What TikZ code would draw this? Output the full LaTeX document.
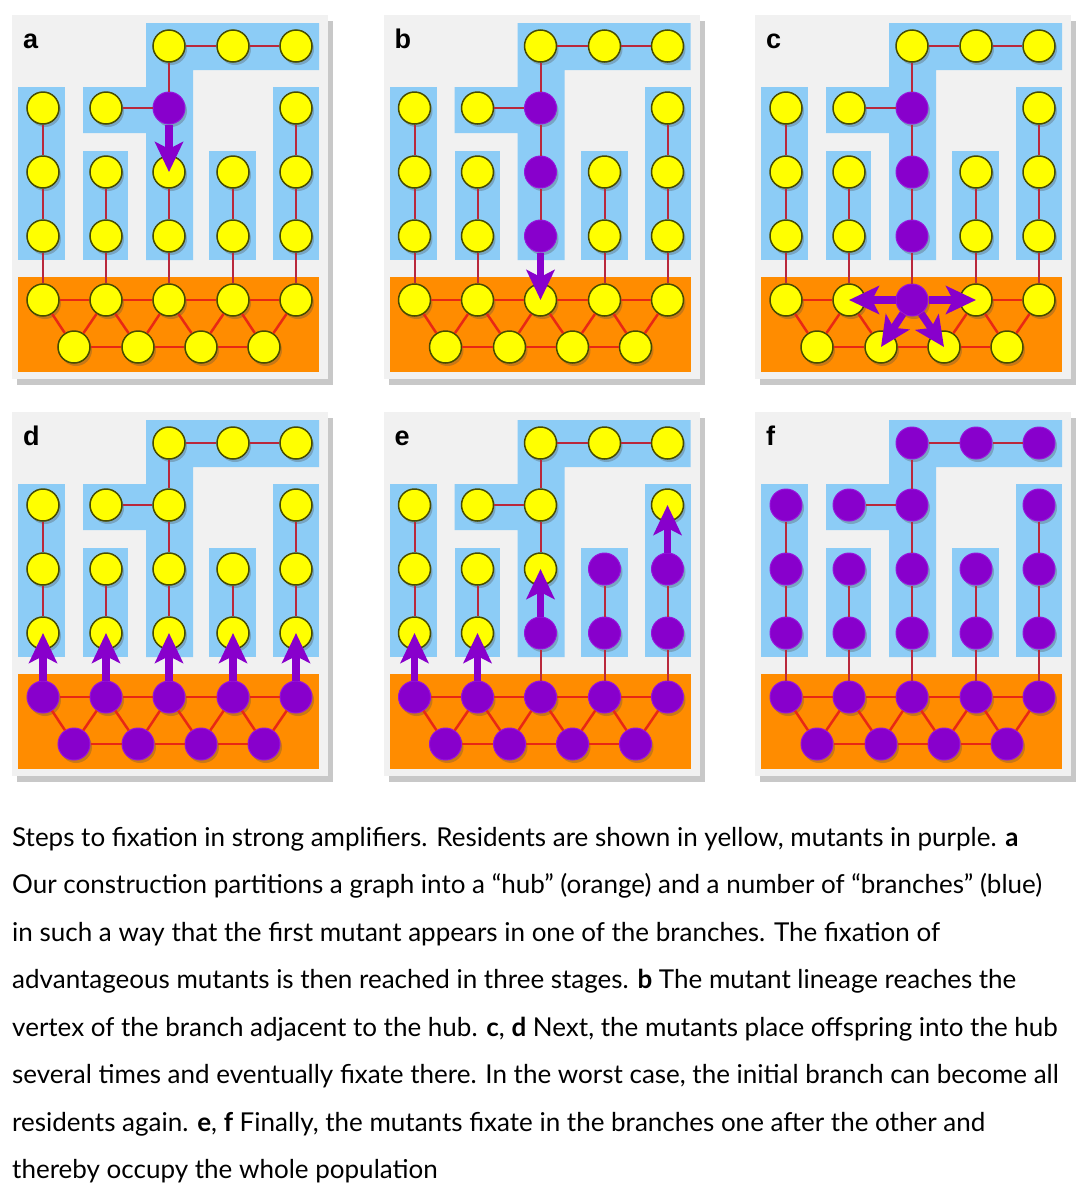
\documentclass[tikz,border=0pt]{standalone}
\usepackage{fontspec}
\setmainfont{Lato}
\newfontfamily\labelfont{Liberation Sans}
\usetikzlibrary{arrows.meta,shadows}

\definecolor{panelbg}{RGB}{241,241,241}
\definecolor{panelsh}{RGB}{200,200,200}
\definecolor{branchblue}{RGB}{140,204,246}
\definecolor{huborange}{RGB}{255,140,0}
\definecolor{resyellow}{RGB}{255,255,0}
\definecolor{resedge}{RGB}{70,75,0}
\definecolor{mutpurple}{RGB}{136,0,204}
\definecolor{mutedge}{RGB}{150,20,220}
\definecolor{branchedge}{RGB}{185,40,60}
\definecolor{hubedge}{RGB}{232,40,20}

\tikzset{
  vertex/.style={circle, minimum size=32pt, inner sep=0pt, fill=resyellow,
    draw=resedge, line width=1.5pt,
    drop shadow={shadow xshift=2pt, shadow yshift=-3pt, opacity=0.3, fill=black!70}},
  mutant/.style={fill=mutpurple, draw=mutedge, line width=1pt},
  bedge/.style={draw=branchedge, line width=2pt},
  hedge/.style={draw=hubedge, line width=2.5pt},
  marrow/.style={draw=mutpurple, line width=7.5pt,
    -{Stealth[length=30pt, width=28pt, inset=7pt]}},
  plabel/.style={font=\labelfont\bfseries\fontsize{27}{27}\selectfont, inner sep=0pt, anchor=base west},
  captext/.style={font=\fontsize{26}{30}\selectfont, inner sep=0pt, anchor=base west},
  % mutant sets
  pa/c3r2/.style={mutant},
  pb/c3r2/.style={mutant}, pb/c3r3/.style={mutant}, pb/c3r4/.style={mutant},
  pc/c3r2/.style={mutant}, pc/c3r3/.style={mutant}, pc/c3r4/.style={mutant}, pc/h3/.style={mutant},
  pd/hub/.style={mutant},
  pe/hub/.style={mutant}, pe/c3r4/.style={mutant}, pe/c4r3/.style={mutant},
  pe/c4r4/.style={mutant}, pe/c5r3/.style={mutant}, pe/c5r4/.style={mutant},
  pf/all/.style={mutant},
}

% vertex: panel, name, x, y, group
\newcommand\Vx[5]{\node[vertex, #1/all/.try, #1/#5/.try, #1/#2/.try] (#1-#2) at (#3,#4) {};}
% edge: style, panel, from, to
\newcommand\Ex[4]{\draw[#1] (#2-#3) -- (#2-#4);}

\newcommand\drawpanel[4]{%
\begin{scope}[shift={(#2,#3)}]
  \fill[panelsh] (17,21) rectangle (333,385);
  \fill[panelbg] (12,15) rectangle (328,379);
  \fill[branchblue] (18,87) rectangle (65,260);
  \fill[branchblue] (83,151) rectangle (128,260);
  \fill[branchblue] (146,23) -- (319,23) -- (319,70) -- (193,70) -- (193,260)
     -- (146,260) -- (146,133) -- (83,133) -- (83,87) -- (146,87) -- cycle;
  \fill[branchblue] (209,151) rectangle (256,260);
  \fill[branchblue] (273,87) rectangle (319,260);
  \fill[huborange] (18,277) rectangle (319,372);
  \node[plabel] (#1-lab) at (23,48) {#4};
  \Vx{#1}{c1r2}{43}{108}{br}
  \Vx{#1}{c1r3}{43}{172}{br}
  \Vx{#1}{c1r4}{43}{236}{br}
  \Vx{#1}{c2r2}{106}{108}{br}
  \Vx{#1}{c2r3}{106}{172}{br}
  \Vx{#1}{c2r4}{106}{236}{br}
  \Vx{#1}{c3r1}{169}{46}{br}
  \Vx{#1}{c3r2}{169}{108}{br}
  \Vx{#1}{c3r3}{169}{172}{br}
  \Vx{#1}{c3r4}{169}{236}{br}
  \Vx{#1}{c4r1}{233}{46}{br}
  \Vx{#1}{c4r3}{233}{172}{br}
  \Vx{#1}{c4r4}{233}{236}{br}
  \Vx{#1}{c5r1}{296}{46}{br}
  \Vx{#1}{c5r2}{296}{108}{br}
  \Vx{#1}{c5r3}{296}{172}{br}
  \Vx{#1}{c5r4}{296}{236}{br}
  \Vx{#1}{h1}{43}{300}{hub}
  \Vx{#1}{h2}{106}{300}{hub}
  \Vx{#1}{h3}{169}{300}{hub}
  \Vx{#1}{h4}{233}{300}{hub}
  \Vx{#1}{h5}{296}{300}{hub}
  \Vx{#1}{g1}{74}{347}{hub}
  \Vx{#1}{g2}{138}{347}{hub}
  \Vx{#1}{g3}{201}{347}{hub}
  \Vx{#1}{g4}{264}{347}{hub}
  % branch edges
  \Ex{bedge}{#1}{c1r2}{c1r3}
  \Ex{bedge}{#1}{c1r3}{c1r4}
  \Ex{bedge}{#1}{c2r2}{c3r2}
  \Ex{bedge}{#1}{c2r3}{c2r4}
  \Ex{bedge}{#1}{c3r1}{c3r2}
  \Ex{bedge}{#1}{c3r2}{c3r3}
  \Ex{bedge}{#1}{c3r3}{c3r4}
  \Ex{bedge}{#1}{c3r1}{c4r1}
  \Ex{bedge}{#1}{c4r1}{c5r1}
  \Ex{bedge}{#1}{c4r3}{c4r4}
  \Ex{bedge}{#1}{c5r2}{c5r3}
  \Ex{bedge}{#1}{c5r3}{c5r4}
  % branch-hub edges
  \Ex{bedge}{#1}{c1r4}{h1}
  \Ex{bedge}{#1}{c2r4}{h2}
  \Ex{bedge}{#1}{c3r4}{h3}
  \Ex{bedge}{#1}{c4r4}{h4}
  \Ex{bedge}{#1}{c5r4}{h5}
  % hub edges
  \Ex{hedge}{#1}{h1}{h2}
  \Ex{hedge}{#1}{h2}{h3}
  \Ex{hedge}{#1}{h3}{h4}
  \Ex{hedge}{#1}{h4}{h5}
  \Ex{hedge}{#1}{g1}{g2}
  \Ex{hedge}{#1}{g2}{g3}
  \Ex{hedge}{#1}{g3}{g4}
  \Ex{hedge}{#1}{g1}{h1}
  \Ex{hedge}{#1}{g1}{h2}
  \Ex{hedge}{#1}{g2}{h2}
  \Ex{hedge}{#1}{g2}{h3}
  \Ex{hedge}{#1}{g3}{h3}
  \Ex{hedge}{#1}{g3}{h4}
  \Ex{hedge}{#1}{g4}{h4}
  \Ex{hedge}{#1}{g4}{h5}
\end{scope}}

\begin{document}
\begin{tikzpicture}[x=1pt, y=-1pt]
  \fill[white] (0,0) rectangle (1092,1200);
  \useasboundingbox (0,0) rectangle (1092,1200);

  \drawpanel{pa}{0}{0}{a}
  \drawpanel{pb}{371.5}{0}{b}
  \drawpanel{pc}{743}{0}{c}
  \drawpanel{pd}{0}{397}{d}
  \drawpanel{pe}{371.5}{397}{e}
  \drawpanel{pf}{743}{397}{f}

  % arrows
  \draw[marrow] (pa-c3r2) -- (pa-c3r3.center);
  \draw[marrow] (pb-c3r4) -- (pb-h3.center);
  \draw[marrow] (pc-h3) -- (pc-h2.center);
  \draw[marrow] (pc-h3) -- (pc-h4.center);
  \draw[marrow] (pc-h3) -- (pc-g2.center);
  \draw[marrow] (pc-h3) -- (pc-g3.center);
  \draw[marrow] (pd-h1) -- (pd-c1r4.center);
  \draw[marrow] (pd-h2) -- (pd-c2r4.center);
  \draw[marrow] (pd-h3) -- (pd-c3r4.center);
  \draw[marrow] (pd-h4) -- (pd-c4r4.center);
  \draw[marrow] (pd-h5) -- (pd-c5r4.center);
  \draw[marrow] (pe-h1) -- (pe-c1r4.center);
  \draw[marrow] (pe-h2) -- (pe-c2r4.center);
  \draw[marrow] (pe-c3r4) -- (pe-c3r3.center);
  \draw[marrow] (pe-c5r3) -- (pe-c5r2.center);

  % caption
  \node[captext] (cap1) at (12,846) {Steps to fixation in strong amplifiers. Residents are shown in yellow, mutants in purple. \textbf{a}};
  \node[captext] (cap2) at (12,893.5) {Our construction partitions a graph into a “hub” (orange) and a number of “branches” (blue)};
  \node[captext] (cap3) at (12,941) {in such a way that the first mutant appears in one of the branches. The fixation of};
  \node[captext] (cap4) at (12,988.5) {advantageous mutants is then reached in three stages. \textbf{b} The mutant lineage reaches the};
  \node[captext] (cap5) at (12,1036) {vertex of the branch adjacent to the hub. \textbf{c}, \textbf{d} Next, the mutants place offspring into the hub};
  \node[captext] (cap6) at (12,1083.5) {several times and eventually fixate there. In the worst case, the initial branch can become all};
  \node[captext] (cap7) at (12,1131) {residents again. \textbf{e}, \textbf{f} Finally, the mutants fixate in the branches one after the other and};
  \node[captext] (cap8) at (12,1178.5) {thereby occupy the whole population};
\end{tikzpicture}
\end{document}
